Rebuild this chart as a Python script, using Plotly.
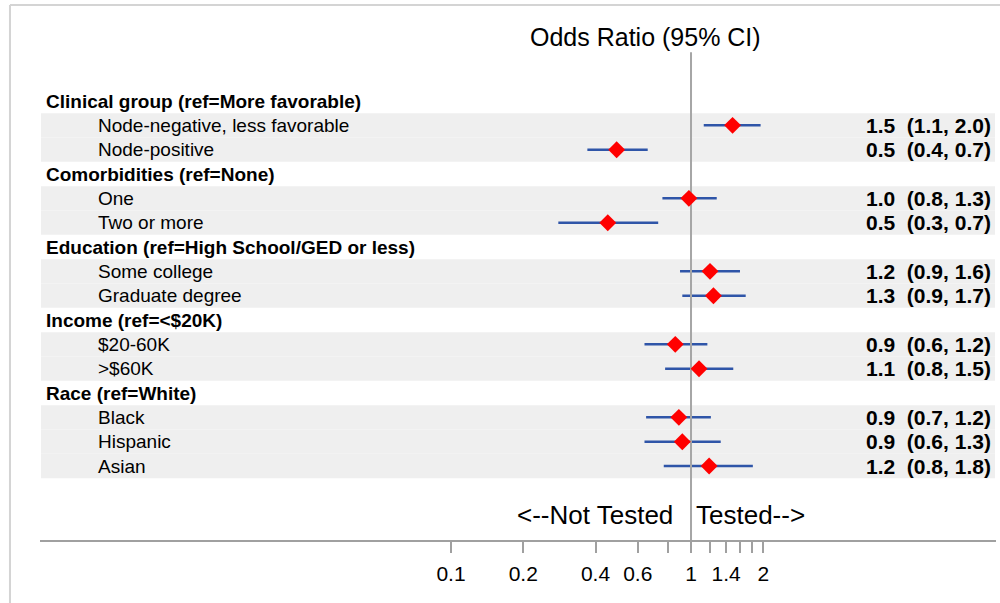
import plotly.graph_objects as go

# ---- data ----
row_labels = [
    "Clinical group (ref=More favorable)", "Node-negative, less favorable", "Node-positive",
    "Comorbidities (ref=None)", "One", "Two or more",
    "Education (ref=High School/GED or less)", "Some college", "Graduate degree",
    "Income (ref=<$20K)", "$20-60K", ">$60K",
    "Race (ref=White)", "Black", "Hispanic", "Asian",
]
is_header = [True, False, False, True, False, False, True, False, False,
             True, False, False, True, False, False, False]
odds_ratio = [None, 1.49, 0.49, None, 0.98, 0.45, None, 1.20, 1.24,
              None, 0.86, 1.08, None, 0.89, 0.92, 1.19]
ci_lower = [None, 1.13, 0.37, None, 0.76, 0.28, None, 0.90, 0.92,
            None, 0.64, 0.78, None, 0.65, 0.64, 0.77]
ci_upper = [None, 1.95, 0.66, None, 1.28, 0.73, None, 1.60, 1.69,
            None, 1.17, 1.50, None, 1.21, 1.33, 1.81]
ci_text = ["", "1.5  (1.1, 2.0)", "0.5  (0.4, 0.7)",
           "", "1.0  (0.8, 1.3)", "0.5  (0.3, 0.7)",
           "", "1.2  (0.9, 1.6)", "1.3  (0.9, 1.7)",
           "", "0.9  (0.6, 1.2)", "1.1  (0.8, 1.5)",
           "", "0.9  (0.7, 1.2)", "0.9  (0.6, 1.3)", "1.2  (0.8, 1.8)"]
tick_vals = [0.1, 0.2, 0.4, 0.6, 0.8, 1, 1.2, 1.4, 1.6, 1.8, 2]
tick_text = ["0.1", "0.2", "0.4", "0.6", "", "1", "", "1.4", "", "", "2"]

FONT = "Liberation Sans, Arial, sans-serif"
rows = list(range(len(row_labels)))

fig = go.Figure()

# CI lines
lx, ly = [], []
for i in rows:
    if odds_ratio[i] is None:
        continue
    lx += [ci_lower[i], ci_upper[i], None]
    ly += [i, i, None]
fig.add_trace(go.Scatter(x=lx, y=ly, mode="lines",
                         line=dict(color="#2f55a8", width=2.5),
                         hoverinfo="skip", showlegend=False))

# reference line at 1
fig.add_trace(go.Scatter(x=[1, 1], y=[-2.0, 18.1], mode="lines",
                         line=dict(color="#a6a6a6", width=2),
                         hoverinfo="skip", showlegend=False))

# markers
mx = [odds_ratio[i] for i in rows if odds_ratio[i] is not None]
my = [i for i in rows if odds_ratio[i] is not None]
fig.add_trace(go.Scatter(x=mx, y=my, mode="markers",
                         marker=dict(symbol="diamond", size=13, color="#ff0000",
                                     line=dict(width=0)),
                         showlegend=False))

shapes = []
# bands for item rows
for i in rows:
    if not is_header[i]:
        shapes.append(dict(type="rect", xref="paper", yref="y",
                           x0=0.001, x1=0.999, y0=i - 0.5, y1=i + 0.5,
                           fillcolor="#efefef", line=dict(width=0), layer="below"))
# outer frame (left & top)
shapes.append(dict(type="line", xref="paper", yref="paper",
                   x0=-0.0314, x1=-0.0314, y0=1.029, y1=-0.13,
                   line=dict(color="#d4d4d4", width=2)))
shapes.append(dict(type="line", xref="paper", yref="paper",
                   x0=-0.0314, x1=1.01, y0=1.029, y1=1.029,
                   line=dict(color="#d4d4d4", width=2)))

annotations = []
for i in rows:
    if is_header[i]:
        annotations.append(dict(xref="paper", yref="y", x=0.0042, y=i,
                                text="<b>" + row_labels[i] + "</b>",
                                xanchor="left", yanchor="middle", showarrow=False,
                                font=dict(family=FONT, size=19, color="black")))
    else:
        annotations.append(dict(xref="paper", yref="y", x=0.0586, y=i,
                                text=row_labels[i],
                                xanchor="left", yanchor="middle", showarrow=False,
                                font=dict(family=FONT, size=19, color="black")))
    if ci_text[i]:
        annotations.append(dict(xref="paper", yref="y", x=0.997, y=i,
                                text="<b>" + ci_text[i].replace("  ", "&nbsp;&nbsp;") + "</b>",
                                xanchor="right", yanchor="middle", showarrow=False,
                                font=dict(family=FONT, size=21, color="black")))

annotations.append(dict(xref="paper", yref="y", x=0.633, y=-2.63,
                        text="Odds Ratio (95% CI)", xanchor="center", yanchor="middle",
                        showarrow=False, font=dict(family=FONT, size=25, color="black")))
annotations.append(dict(xref="paper", yref="y", x=0.664, y=17.02,
                        text="&lt;--Not Tested", xanchor="right", yanchor="middle",
                        showarrow=False, font=dict(family=FONT, size=26, color="black")))
annotations.append(dict(xref="paper", yref="y", x=0.684, y=17.02,
                        text="Tested--&gt;", xanchor="left", yanchor="middle",
                        showarrow=False, font=dict(family=FONT, size=26, color="black")))

fig.update_layout(
    width=1000, height=603,
    margin=dict(l=40, r=4, t=20, b=63),
    paper_bgcolor="white", plot_bgcolor="white",
    shapes=shapes, annotations=annotations,
    xaxis=dict(type="log", range=[-2.7125, 1.2708],
               tickvals=tick_vals, ticktext=tick_text,
               ticks="outside", ticklen=11, tickwidth=2, tickcolor="#a0a0a0",
               showline=True, linecolor="#a0a0a0", linewidth=2,
               showgrid=False, zeroline=False,
               tickfont=dict(family=FONT, size=21, color="black"),
               ticklabelstandoff=3),
    yaxis=dict(range=[18.04, -3.329], visible=False, showgrid=False, zeroline=False),
    font=dict(family=FONT),
)

fig.write_html("out.html", config={"displayModeBar": False},
               post_script="document.body.style.margin='0';")
